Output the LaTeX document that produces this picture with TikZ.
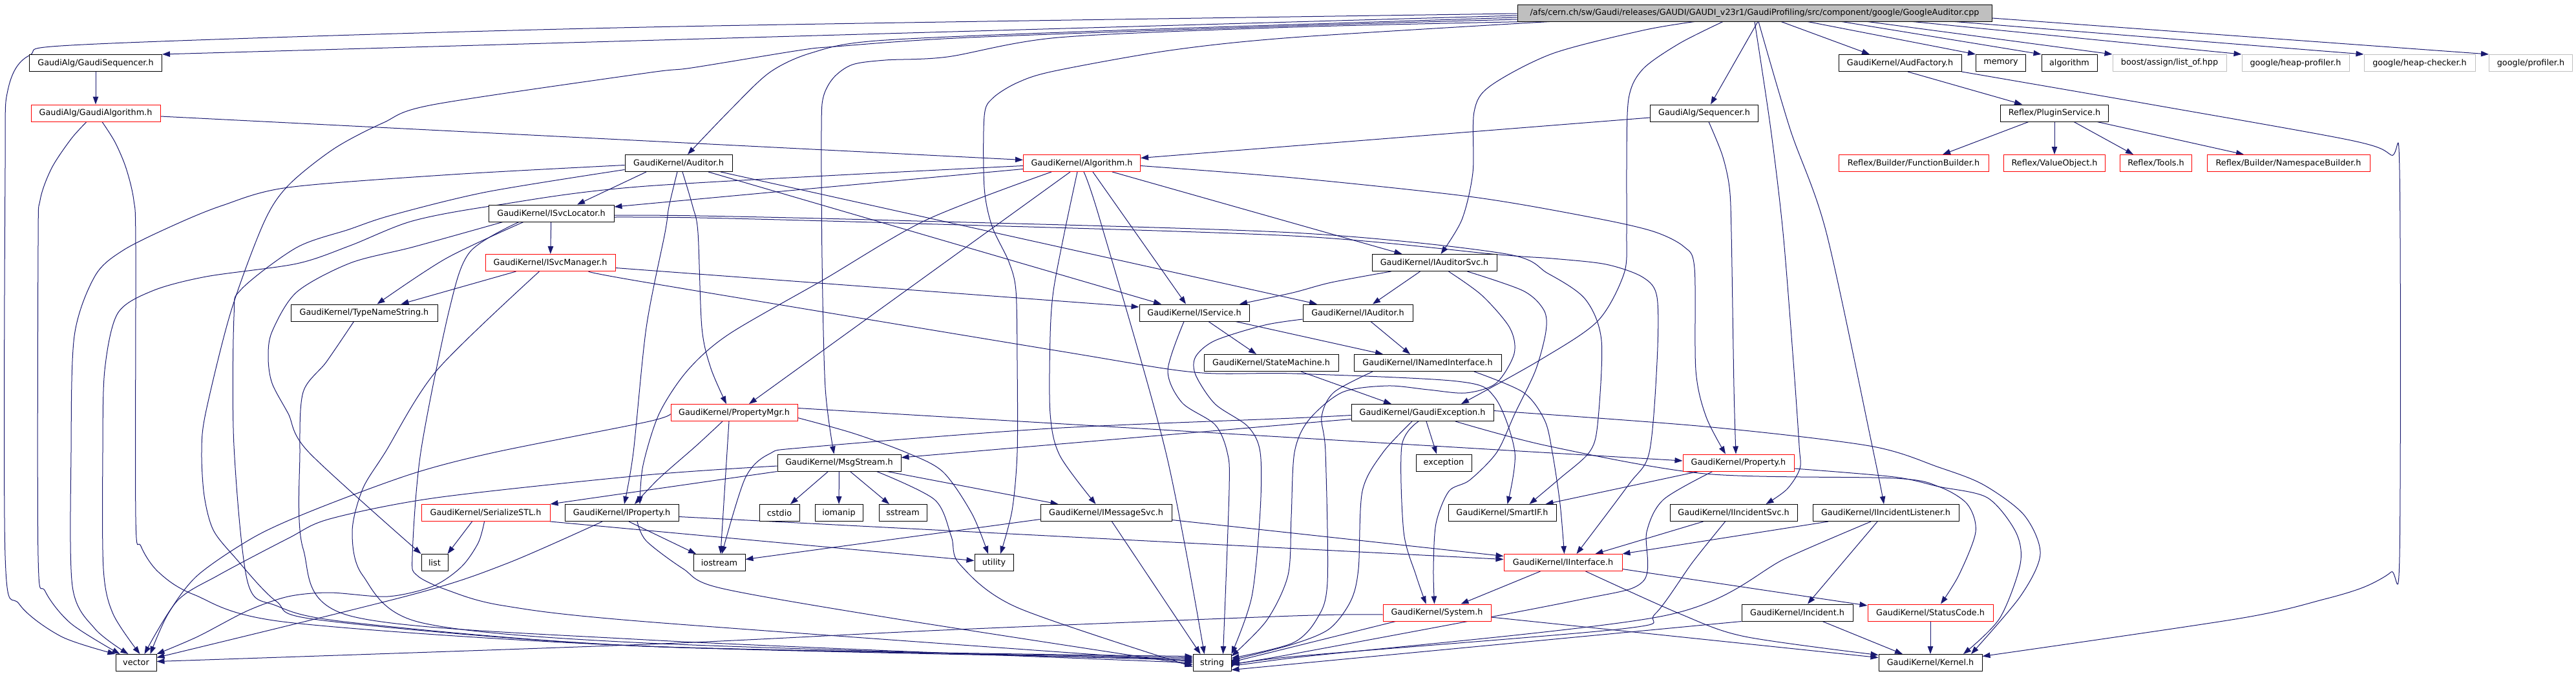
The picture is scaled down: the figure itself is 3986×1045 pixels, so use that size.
\documentclass[tikz,border=0pt]{standalone}
\usepackage{fontspec}
\setmainfont{DejaVu Sans}
\usepackage{xcolor}
\definecolor{edgeblue}{HTML}{191970}
\definecolor{boxred}{HTML}{FF0000}
\definecolor{boxgray}{HTML}{BFBFBF}
\definecolor{rootgray}{HTML}{BFBFBF}
\usepackage{tikz}
\usetikzlibrary{arrows.meta, backgrounds}

\begin{document}
\begin{tikzpicture}[
			x=1pt, y=-1pt,
			box/.style={
				rectangle,
				draw=black,
				line width=1pt,
				fill=white,
				minimum width=#1,
				minimum height=26pt,
				inner xsep=3pt,
				inner ysep=0pt,
				align=center,
				font=\fontsize{12.8}{15}\selectfont,
			},
			redbox/.style={box=#1, draw=boxred},
			graybox/.style={box=#1, draw=boxgray},
			edge/.style={-{Triangle[length=12pt,width=8.5pt]}, line width=1pt, color=edgeblue},
			]
			\useasboundingbox (0,0) rectangle (3986,1045);
			
			\node[box=734, fill=rootgray] (root) at (2715,20) {/afs/cern.ch/sw/Gaudi/releases/GAUDI/GAUDI\_v23r1/GaudiProfiling/src/component/google/GoogleAuditor.cpp};
			
			\node[box=205] (gseq) at (148,97.5) {GaudiAlg/GaudiSequencer.h};
			\node[box=190] (audfac) at (2940,97.5) {GaudiKernel/AudFactory.h};
			\node[box=77] (memory) at (3096,97.5) {memory};
			\node[box=86] (algorithm) at (3202,97.5) {algorithm};
			\node[graybox=176] (listof) at (3357,97.5) {boost/assign/list\_of.hpp};
			\node[graybox=166] (heapprof) at (3552,97.5) {google/heap-profiler.h};
			\node[graybox=172] (heapcheck) at (3744,97.5) {google/heap-checker.h};
			\node[graybox=129] (profiler) at (3916,97.5) {google/profiler.h};
			
			\node[redbox=200] (galg) at (148,175) {GaudiAlg/GaudiAlgorithm.h};
			\node[box=167] (seq) at (2637,175) {GaudiAlg/Sequencer.h};
			\node[box=167] (plugin) at (3179,175) {Reflex/PluginService.h};
			
			\node[box=166] (auditor) at (1050,252.5) {GaudiKernel/Auditor.h};
			\node[redbox=181] (algo) at (1674,252.5) {GaudiKernel/Algorithm.h};
			\node[redbox=232] (funcbuilder) at (2961,252.5) {Reflex/Builder/FunctionBuilder.h};
			\node[redbox=157] (valueobj) at (3179,252.5) {Reflex/ValueObject.h};
			\node[redbox=111] (tools) at (3336,252.5) {Reflex/Tools.h};
			\node[redbox=252] (nsbuilder) at (3541,252.5) {Reflex/Builder/NamespaceBuilder.h};
			
			\node[box=194] (isvclocator) at (853,330) {GaudiKernel/ISvcLocator.h};
			\node[redbox=201] (isvcmanager) at (851.5,406.5) {GaudiKernel/ISvcManager.h};
			\node[box=193] (iauditorsvc) at (2219.5,406.5) {GaudiKernel/IAuditorSvc.h};
			
			\node[box=227] (typename) at (563.5,484) {GaudiKernel/TypeNameString.h};
			\node[box=170] (iservice) at (1848,484) {GaudiKernel/IService.h};
			\node[box=170] (iauditor) at (2101,484) {GaudiKernel/IAuditor.h};
			\node[box=208] (statemachine) at (1967,561.5) {GaudiKernel/StateMachine.h};
			\node[box=228] (inamed) at (2209,561.5) {GaudiKernel/INamedInterface.h};
			
			\node[redbox=196] (propertymgr) at (1136,638.5) {GaudiKernel/PropertyMgr.h};
			\node[box=220] (gaudiexc) at (2201,638.5) {GaudiKernel/GaudiException.h};
			\node[box=191] (msgstream) at (1298.5,716) {GaudiKernel/MsgStream.h};
			\node[box=86] (exception) at (2234,716) {exception};
			\node[redbox=172] (property) at (2690,716) {GaudiKernel/Property.h};
			
			\node[redbox=199] (serialize) at (751.5,793.5) {GaudiKernel/SerializeSTL.h};
			\node[box=176] (iproperty) at (962,793.5) {GaudiKernel/IProperty.h};
			\node[box=62] (cstdio) at (1206,793.5) {cstdio};
			\node[box=74] (iomanip) at (1298,793.5) {iomanip};
			\node[box=74] (sstream) at (1397,793.5) {sstream};
			\node[box=203] (imessagesvc) at (1711.5,793.5) {GaudiKernel/IMessageSvc.h};
			\node[box=167] (smartif) at (2324.5,793.5) {GaudiKernel/SmartIF.h};
			\node[box=197] (iincidentsvc) at (2682.5,793.5) {GaudiKernel/IIncidentSvc.h};
			\node[box=226] (iincidentlsn) at (2918,793.5) {GaudiKernel/IIncidentListener.h};
			
			\node[box=41] (list) at (672.5,870.5) {list};
			\node[box=80] (iostream) at (1113,870.5) {iostream};
			\node[box=60] (utility) at (1538,870.5) {utility};
			\node[redbox=183] (iinterface) at (2418.5,870.5) {GaudiKernel/IInterface.h};
			\node[redbox=167] (system) at (2223.5,948) {GaudiKernel/System.h};
			\node[box=172] (incident) at (2781,948) {GaudiKernel/Incident.h};
			\node[redbox=194] (statuscode) at (2987,948) {GaudiKernel/StatusCode.h};
			\node[box=63] (vector) at (210.5,1025.5) {vector};
			\node[box=59] (string) at (1875.5,1025.5) {string};
			\node[box=160] (kernel) at (2987,1025.5) {GaudiKernel/Kernel.h};
			
			\begin{scope}[on background layer]
			% GoogleAuditor.cpp
			\draw[edge] plot[smooth,tension=.5] coordinates {([yshift=-1pt]root.west) (1000,42) (150,68) (45,86) (12,140) (8,260) (8,860) (30,935) (95,985) (vector.north west)};
			\draw[edge] ([yshift=-4pt]root.west) -- (gseq.north east);
			\draw[edge] plot[smooth,tension=.5] coordinates {([yshift=-7pt]root.west) (1700,48) (1357,63) (1255,82) (1191,112) (1130,170) ([xshift=14pt]auditor.north)};
			\draw[edge] plot[smooth,tension=.5] coordinates {([yshift=-10pt]root.west) (2000,40) (1500,58) (1293,72) (1236,78) (1070,105) (1000,113) (670,162) (593,190) (517,230) (446,287) (408,345) (357,483) (318,640) (312,700) (316,767) (330,820) (364,863) (427,930) (500,960) (1000,1000) ([yshift=10pt]string.west)};
			\draw[edge] plot[smooth,tension=.5] coordinates {([xshift=12pt]root.south west) (2000,42) (1638,58) (1466,88) (1370,93) (1319,100) (1290,120) (1274,150) (1271,200) (1272,400) (1277,600) ([xshift=-8pt]msgstream.north)};
			\draw[edge] plot[smooth,tension=.5] coordinates {([xshift=50pt]root.south west) (2000,58) (1810,78) (1631,110) (1574,128) (1536,152) (1523,180) (1523,290) (1535,350) (1561,405) (1572,450) (1574,560) (1574,700) (1566,790) ([xshift=10pt]utility.north)};
			\draw[edge] plot[smooth,tension=.5] coordinates {([xshift=-93pt]root.south) (2542,47) (2402,83) (2306,133) (2281,173) (2279,267) (2262,340) ([xshift=10pt]iauditorsvc.north)};
			\draw[edge] plot[smooth,tension=.5] coordinates {([xshift=-49pt]root.south) (2599,67) (2542,107) (2520,153) (2517,260) (2517,360) (2513,423) (2472,497) (2383,557) ([xshift=60pt]gaudiexc.north)};
			\draw[edge] ([xshift=5pt]root.south) -- ([xshift=10pt]seq.north);
			\draw[edge] plot[smooth,tension=.5] coordinates {(root.south) (2740,200) (2759,360) (2775,560) (2784,690) (2785,725) (2765,757) ([xshift=50pt]iincidentsvc.north)};
			\draw[edge] plot[smooth,tension=.5] coordinates {([xshift=6pt]root.south) (2770,200) (2826,360) (2899,700) ([xshift=-3pt]iincidentlsn.north)};
			\draw[edge] ([xshift=41pt]root.south) -- ([xshift=-47pt]audfac.north);
			\draw[edge] ([xshift=82pt]root.south) -- (memory.north west);
			\draw[edge] ([xshift=135pt]root.south) -- (algorithm.north west);
			\draw[edge] ([xshift=175pt]root.south) -- (listof.north west);
			\draw[edge] ([xshift=245pt]root.south) -- (heapprof.north west);
			\draw[edge] ([xshift=310pt]root.south) -- (heapcheck.north west);
			\draw[edge] ([yshift=-8pt]root.east) -- (profiler.north west);
			
			\draw[edge] (gseq) -- (galg);
			\draw[edge] ([yshift=-5pt]galg.east) -- ([yshift=5pt]algo.west);
			\draw[edge] plot[smooth,tension=.5] coordinates {([xshift=-14pt]galg.south) (110,215) (80,260) (62,310) (59,380) (59,860) (70,915) (110,965) ([xshift=-25pt]vector.north)};
			\draw[edge] plot[smooth,tension=.5] coordinates {([xshift=10pt]galg.south) (178,220) (195,260) (207,310) (210,380) (210,800) (218,845) (245,885) (300,920) (446,963) (1000,1000) ([yshift=8pt]string.west)};
			
			\draw[edge] ([yshift=-7pt]seq.west) -- ([yshift=8pt]algo.east);
			\draw[edge] plot[smooth,tension=.5] coordinates {([xshift=7pt]seq.south) (2665,240) (2676,290) (2679,360) (2683,600) ([xshift=-4pt]property.north)};
			
			\draw[edge] ([xshift=12pt]audfac.south) -- ([xshift=-50pt]plugin.north);
			\draw[edge] plot[smooth,tension=.5] coordinates {(audfac.south east) (3319,160) (3637,217) (3700,240) (3713,265) (3713,860) (3700,885) (3659,908) (3597,927) (3465,957) ([yshift=10pt]kernel.east)};
			\draw[edge] ([xshift=-40pt]plugin.south) -- ([xshift=45pt]funcbuilder.north);
			\draw[edge] (plugin) -- (valueobj);
			\draw[edge] ([xshift=30pt]plugin.south) -- ([xshift=-35pt]tools.north);
			\draw[edge] ([xshift=66pt]plugin.south) -- ([xshift=-69pt]nsbuilder.north);
			
			% Auditor.h
			\draw[edge] ([xshift=-50pt]auditor.south) -- ([xshift=40pt]isvclocator.north);
			\draw[edge] plot[smooth,tension=.5] coordinates {([yshift=-3pt]auditor.west) (700,270) (446,290) (344,318) (270,348) (191,387) (147,427) (115,520) (110,700) (112,907) (147,973) ([xshift=-12pt]vector.north)};
			\draw[edge] plot[smooth,tension=.5] coordinates {([yshift=-10pt]auditor.west) (753,297) (606,333) (540,355) (459,383) (373,448) (362,490) (362,690) (383,900) (427,937) (542,963) (1000,1000) ([yshift=6pt]string.west)};
			\draw[edge] plot[smooth,tension=.5] coordinates {([xshift=-2pt]auditor.south) (1035,320) (1029,360) (1000,507) (980,700) ([xshift=4pt]iproperty.north)};
			\draw[edge] plot[smooth,tension=.5] coordinates {([xshift=6pt]auditor.south) (1072,320) (1080,360) (1086,507) (1100,570) ([xshift=-12pt]propertymgr.north)};
			\draw[edge] ([xshift=46pt]auditor.south) -- ([xshift=-51pt]iservice.north);
			\draw[edge] ([xshift=65pt]auditor.south) -- ([xshift=-63pt]iauditor.north);
			
			% Algorithm.h
			\draw[edge] plot[smooth,tension=.5] coordinates {([yshift=-4pt]algo.west) (1000,288) (765,318) (638,342) (542,380) (459,408) (319,428) (236,450) (182,485) (162,573) (159,700) (160,880) (175,950) ([xshift=6pt]vector.north)};
			\draw[edge] ([yshift=-9pt]algo.west) -- ([yshift=10pt]isvclocator.east);
			\draw[edge] plot[smooth,tension=.5] coordinates {([xshift=-47pt]algo.south) (1434,340) (1274,433) (1128,517) (1064,573) (1020,640) (995,720) ([xshift=28pt]iproperty.north)};
			\draw[edge] ([xshift=-18pt]algo.south) -- ([xshift=23pt]propertymgr.north);
			\draw[edge] plot[smooth,tension=.5] coordinates {([xshift=-7pt]algo.south) (1647,360) (1630,450) (1625,520) (1625,640) (1640,705) ([xshift=-16pt]imessagesvc.north)};
			\draw[edge] plot[smooth,tension=.5] coordinates {([xshift=3pt]algo.south) (1702,340) (1804,700) ([xshift=-12pt]string.north)};
			\draw[edge] ([xshift=17pt]algo.south) -- ([xshift=-13pt]iservice.north);
			\draw[edge] ([xshift=47pt]algo.south) -- ([xshift=-50pt]iauditorsvc.north);
			\draw[edge] plot[smooth,tension=.5] coordinates {([yshift=-4pt]algo.east) (2000,275) (2280,305) (2466,337) (2558,358) (2606,382) (2622,415) (2624,573) (2640,645) ([xshift=-20pt]property.north)};
			
			% ISvcLocator.h, ISvcManager.h, TypeNameString.h
			\draw[edge] (isvclocator) -- (isvcmanager);
			\draw[edge] plot[smooth,tension=.5] coordinates {([xshift=-43pt]isvclocator.south) (690,400) ([xshift=20pt]typename.north)};
			\draw[edge] plot[smooth,tension=.5] coordinates {([xshift=-75pt]isvclocator.south) (640,382) (542,407) (459,452) (421,513) (415,553) (421,593) (446,640) (478,700) (list.north west)};
			\draw[edge] plot[smooth,tension=.5] coordinates {([xshift=-50pt]isvclocator.south) (727,390) (695,480) (651,700) (638,860) (645,890) (692,913) (778,937) (1000,962) ([yshift=2pt]string.west)};
			\draw[edge] plot[smooth,tension=.5] coordinates {([yshift=-3pt]isvclocator.east) (1083,334) (1383,341) (2000,360) (2325,392) (2395,423) (2453,463) (2478,527) (2472,657) (2459,700) (2414,740) ([xshift=42pt]smartif.north)};
			\draw[edge] plot[smooth,tension=.5] coordinates {([yshift=-6pt]isvclocator.east) (1083,337) (1383,345) (2000,365) (2319,394) (2402,400) (2485,409) (2542,429) (2564,460) (2564,560) (2552,700) (2520,750) ([xshift=21pt]iinterface.north)};
			\draw[edge] ([xshift=-53pt]isvcmanager.south) -- ([xshift=57pt]typename.north);
			\draw[edge] plot[smooth,tension=.5] coordinates {([xshift=-17pt]isvcmanager.south) (676,573) (596,700) (561,757) (545,823) (561,890) (650,963) (1000,995) ([yshift=4pt]string.west)};
			\draw[edge] ([yshift=-8pt]isvcmanager.east) -- ([yshift=9pt]iservice.west);
			\draw[edge] plot[smooth,tension=.5] coordinates {([xshift=60pt]isvcmanager.south) (1000,437) (1638,543) (1848,576) (2000,578) (2255,590) (2313,615) (2344,700) ([xshift=8pt]smartif.north)};
			\draw[edge] plot[smooth,tension=.5] coordinates {([xshift=-16pt]typename.south) (505,560) (469,607) (464,700) (469,849) (542,953) (1000,990) ([yshift=0pt]string.west)};
			
			% IAuditorSvc.h, IService.h, IAuditor.h
			\draw[edge] plot[smooth,tension=.5] coordinates {([xshift=-67pt]iauditorsvc.south) (2060,437) (2000,453) ([xshift=70pt]iservice.north)};
			\draw[edge] ([xshift=-22pt]iauditorsvc.south) -- ([xshift=23pt]iauditor.north);
			\draw[edge] plot[smooth,tension=.5] coordinates {([xshift=22pt]iauditorsvc.south) (2293,457) (2336,507) (2343,547) (2315,593) (2268,608) (2210,603) (2147,597) (2077,607) (2025,650) (2003,700) (1998,800) (1993,890) (1960,960) ([yshift=10pt]string.east)};
			\draw[edge] plot[smooth,tension=.5] coordinates {([xshift=51pt]iauditorsvc.south) (2357,450) (2389,480) (2392,513) (2376,573) (2344,640) (2316,700) (2274,743) (2242,760) (2222,810) (2218,880) ([xshift=-4pt]system.north)};
			\draw[edge] plot[smooth,tension=.5] coordinates {([xshift=-16pt]iservice.south) (1807,573) (1829,623) (1880,657) (1899,700) (1902,757) ([xshift=17pt]string.north)};
			\draw[edge] ([xshift=22pt]iservice.south) -- ([xshift=-23pt]statemachine.north);
			\draw[edge] ([xshift=64pt]iservice.south) -- ([xshift=-69pt]inamed.north);
			\draw[edge] ([xshift=20pt]iauditor.south) -- ([xshift=-27pt]inamed.north);
			\draw[edge] plot[smooth,tension=.5] coordinates {([yshift=-10pt]iauditor.west) (1957,503) (1880,527) (1850,552) (1850,580) (1880,625) (1931,660) (1950,700) (1950,790) (1937,923) (string.north east)};
			\draw[edge] ([xshift=46pt]statemachine.south) -- ([xshift=-48pt]gaudiexc.north);
			\draw[edge] plot[smooth,tension=.5] coordinates {([xshift=-85pt]inamed.south) (2064,607) (2045,645) (2051,700) (2054,900) (2038,957) (2000,995) ([yshift=7pt]string.east)};
			\draw[edge] plot[smooth,tension=.5] coordinates {([xshift=72pt]inamed.south) (2357,607) (2390,650) (2402,700) (2414,780) ([xshift=2pt]iinterface.north)};
			
			% GaudiException.h, Property.h, PropertyMgr.h
			\draw[edge] plot[smooth,tension=.5] coordinates {([yshift=-4pt]gaudiexc.west) (2000,647) (1625,663) (1250,692) (1191,702) (1153,740) ([xshift=4pt]iostream.north)};
			\draw[edge] ([yshift=-10pt]gaudiexc.west) -- ([yshift=8pt]msgstream.east);
			\draw[edge] plot[smooth,tension=.5] coordinates {([xshift=-16pt]gaudiexc.south) (2140,700) (2108,760) (2102,880) (2090,930) (2057,973) (2000,997) ([yshift=4pt]string.east)};
			\draw[edge] plot[smooth,tension=.5] coordinates {([xshift=-6pt]gaudiexc.south) (2169,690) (2172,823) (2191,890) ([xshift=-17pt]system.north)};
			\draw[edge] ([xshift=6pt]gaudiexc.south) -- ([xshift=-11pt]exception.north);
			\draw[edge] plot[smooth,tension=.5] coordinates {([xshift=51pt]gaudiexc.south) (2395,690) (2638,733) (2931,740) (3000,753) (3044,780) (3057,823) (3031,890) ([xshift=16pt]statuscode.north)};
			\draw[edge] plot[smooth,tension=.5] coordinates {([yshift=3pt]gaudiexc.east) (2638,660) (2893,690) (3000,723) (3069,750) (3132,797) (3157,857) (3126,923) ([xshift=63pt]kernel.north)};
			\draw[edge] ([xshift=-62pt]property.south) -- ([xshift=67pt]smartif.north);
			\draw[edge] plot[smooth,tension=.5] coordinates {([xshift=-40pt]property.south) (2574,773) (2548,823) (2542,900) (2434,930) (2000,1012) ([yshift=-2pt]string.east)};
			\draw[edge] plot[smooth,tension=.5] coordinates {([yshift=-9pt]property.east) (2931,738) (3000,753) (3075,770) (3119,823) (3126,873) (3094,957) ([xshift=51pt]kernel.north)};
			\draw[edge] ([yshift=7pt]propertymgr.east) -- ([yshift=3pt]property.west);
			\draw[edge] plot[smooth,tension=.5] coordinates {([yshift=-2pt]propertymgr.west) (1000,653) (765,700) (638,733) (491,787) (395,830) (306,890) (260,950) ([xshift=22pt]vector.north)};
			\draw[edge] plot[smooth,tension=.5] coordinates {([xshift=-18pt]propertymgr.south) (1077,690) (1020,740) ([xshift=20pt]iproperty.north)};
			\draw[edge] ([xshift=-8pt]propertymgr.south) -- ([xshift=2pt]iostream.north);
			\draw[edge] plot[smooth,tension=.5] coordinates {([yshift=-8pt]propertymgr.east) (1319,670) (1402,700) (1459,730) (1504,795) ([xshift=-9pt]utility.north)};
			
			% MsgStream.h, IMessageSvc.h, IProperty.h, SerializeSTL.h
			\draw[edge] ([xshift=-17pt]msgstream.south) -- ([xshift=17pt]cstdio.north);
			\draw[edge] (msgstream) -- (iomanip);
			\draw[edge] ([xshift=17pt]msgstream.south) -- ([xshift=-21pt]sstream.north);
			\draw[edge] ([xshift=74pt]msgstream.south) -- ([xshift=-74pt]imessagesvc.north);
			\draw[edge] plot[smooth,tension=.5] coordinates {([xshift=58pt]msgstream.south) (1446,773) (1472,830) (1485,873) (1574,940) ([yshift=-6pt]string.west)};
			\draw[edge] plot[smooth,tension=.5] coordinates {([yshift=-5pt]msgstream.west) (1000,735) (676,770) (510,803) (446,833) (338,890) (274,930) ([xshift=13pt]vector.north)};
			\draw[edge] (msgstream.south west) -- (serialize.north east);
			\draw[edge] ([yshift=-10pt]imessagesvc.west) -- ([yshift=5pt]iostream.east);
			\draw[edge] ([xshift=9pt]imessagesvc.south) -- ([xshift=-18pt]string.north);
			\draw[edge] ([yshift=-11pt]imessagesvc.east) -- ([yshift=10pt]iinterface.west);
			\draw[edge] ([yshift=-6pt]iproperty.east) -- ([yshift=5pt]iinterface.west);
			\draw[edge] plot[smooth,tension=.5] coordinates {([xshift=-30pt]iproperty.south) (784,872) (638,920) ([yshift=8pt]vector.east)};
			\draw[edge] ([xshift=11pt]iproperty.south) -- ([xshift=-36pt]iostream.north);
			\draw[edge] plot[smooth,tension=.5] coordinates {([xshift=24pt]iproperty.south) (1000,837) (1057,880) (1115,910) (1383,957) ([yshift=-3pt]string.west)};
			\draw[edge] ([xshift=-21pt]serialize.south) -- ([xshift=20pt]list.north);
			\draw[edge] plot[smooth,tension=.5] coordinates {([xshift=-2pt]serialize.south) (740,840) (714,877) (670,907) (600,923) (510,917) (446,923) (383,945) (306,985) (vector.north east)};
			\draw[edge] (serialize.south east) -- ([yshift=3pt]utility.west);
			
			% IIncidentSvc.h, IIncidentListener.h, IInterface.h, System.h, Incident.h
			\draw[edge] ([xshift=-47pt]iincidentsvc.south) -- ([xshift=50pt]iinterface.north);
			\draw[edge] plot[smooth,tension=.5] coordinates {([xshift=-13pt]iincidentsvc.south) (2619,870) (2561,950) (2510,973) (2000,1016) ([yshift=-5pt]string.east)};
			\draw[edge] ([xshift=-89pt]iincidentlsn.south) -- (iinterface.north east);
			\draw[edge] plot[smooth,tension=.5] coordinates {([xshift=-23pt]iincidentlsn.south) (2765,863) (2574,953) (2000,1018) ([yshift=-8pt]string.east)};
			\draw[edge] ([xshift=-13pt]iincidentlsn.south) -- ([xshift=16pt]incident.north);
			\draw[edge] ([xshift=-35pt]iinterface.south) -- ([xshift=37pt]system.north);
			\draw[edge] plot[smooth,tension=.5] coordinates {([xshift=35pt]iinterface.south) (2600,950) (2700,985) ([yshift=12pt]kernel.west)};
			\draw[edge] ([yshift=-10pt]iinterface.east) -- ([yshift=11pt]statuscode.west);
			\draw[edge] plot[smooth,tension=.5] coordinates {([yshift=-3pt]system.west) (2000,953) (1459,975) (1000,997) ([yshift=2pt]vector.east)};
			\draw[edge] ([xshift=-64pt]system.south) -- ([yshift=1pt]string.east);
			\draw[edge] ([yshift=-7pt]system.east) -- ([yshift=8pt]kernel.west);
			\draw[edge] (incident.south west) -- ([yshift=-11pt]string.east);
			\draw[edge] ([xshift=39pt]incident.south) -- ([xshift=-43pt]kernel.north);
			\draw[edge] (statuscode) -- (kernel);
			\end{scope}
		\end{tikzpicture}
\end{document}
